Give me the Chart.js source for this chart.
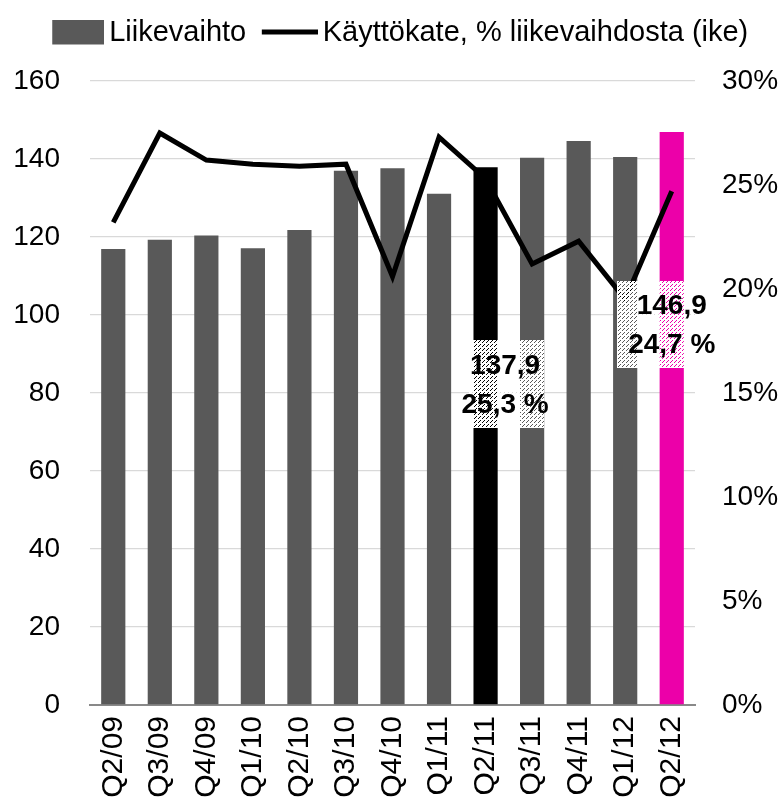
<!DOCTYPE html>
<html>
<head>
<meta charset="utf-8">
<script src="https://cdn.jsdelivr.net/npm/chart.js@4.4.1/dist/chart.umd.min.js"></script>
<style>
    html, body { margin: 0; padding: 0; background: #fff; overflow: hidden; }
    #wrap { width: 784px; height: 809px; }
    #myChart { display: block; }
</style>
</head>
<body>
<div id="wrap"><canvas id="myChart" width="784" height="809"></canvas></div>
<script>
// Chart data
const quarters = ['Q2/09', 'Q3/09', 'Q4/09', 'Q1/10', 'Q2/10', 'Q3/10', 'Q4/10',
    'Q1/11', 'Q2/11', 'Q3/11', 'Q4/11', 'Q1/12', 'Q2/12'];
const revenue = [116.9, 119.3, 120.4, 117.1, 121.8, 137.0, 137.6, 131.1, 137.9, 140.3, 144.6, 140.5, 146.9];
const ebitdaPct = [23.2, 27.5, 26.2, 26.0, 25.9, 26.0, 20.6, 27.3, 25.3, 21.2, 22.3, 19.5, 24.7];
const leftTicks = [0, 20, 40, 60, 80, 100, 120, 140, 160];
const rightTicks = [0, 5, 10, 15, 20, 25, 30];
const labelledQuarters = ['Q2/11', 'Q2/12'];

const FONT = "'Liberation Sans', Arial, sans-serif";

document.addEventListener('DOMContentLoaded', () => {
    const ctx = document.getElementById('myChart').getContext('2d');

    const barColors = quarters.map(q => {
        if (q === 'Q2/11') return '#000000';
        if (q === 'Q2/12') return '#ec00a9';
        return '#595959';
    });

    const fmt = v => v.toFixed(1).replace('.', ',');

    // white dots with holes, so the bar shows through like a stipple
    function makeStipple(c) {
        const tile = document.createElement('canvas');
        tile.width = 4;
        tile.height = 4;
        const t = tile.getContext('2d');
        t.fillStyle = '#ffffff';
        t.fillRect(0, 0, 4, 4);
        t.clearRect(0, 0, 1, 1);
        t.clearRect(2, 2, 1, 1);
        t.clearRect(3, 1, 1, 1);
        return c.createPattern(tile, 'repeat');
    }

    // legend markers sit close to their text, so draw them into small canvases
    // wider than the box and pushed to its right side
    function legendMarker(kind) {
        const m = document.createElement('canvas');
        m.width = 71;
        m.height = 26;
        const g = m.getContext('2d');
        if (kind === 'bar') {
            g.fillStyle = '#595959';
            g.fillRect(19, 0, 52, 25);
        } else {
            g.fillStyle = '#000000';
            g.fillRect(15, 10, 56, 5);
        }
        return m;
    }

    // Legend height tweak so the plot starts below it like the original
    const legendSpacer = {
        id: 'legendSpacer',
        beforeLayout(chart) {
            const legend = chart.legend;
            if (legend && !legend._patched) {
                const fit = legend.fit;
                legend.fit = function () {
                    fit.call(this);
                    this.height = 73;
                };
                legend._patched = true;
            }
        }
    };

    // Value boxes for the highlighted quarters
    const valueBoxes = {
        id: 'valueBoxes',
        afterDatasetsDraw(chart) {
            const c = chart.ctx;
            const x = chart.scales.x;
            const y = chart.scales.y;
            const step = x.getPixelForValue(1) - x.getPixelForValue(0);
            const pattern = makeStipple(c);
            const boxes = [
                { i: quarters.indexOf(labelledQuarters[0]), dx: 0.45, at: 82.3, w: 75, h: 88, tdx: 0.42 },
                { i: quarters.indexOf(labelledQuarters[1]), dx: -0.05, at: 97.5, w: 104, h: 87, tdx: 0 }
            ];
            c.save();
            boxes.forEach(b => {
                const cx = x.getPixelForValue(b.i) + b.dx * step;
                const cy = y.getPixelForValue(b.at);
                c.fillStyle = pattern;
                c.fillRect(Math.round(cx - b.w / 2), Math.round(cy - b.h / 2), b.w, b.h);
                const tx = x.getPixelForValue(b.i) + b.tdx * step;
                c.fillStyle = '#000';
                c.font = `bold 28px ${FONT}`;
                c.textAlign = 'center';
                c.textBaseline = 'middle';
                c.fillText(fmt(revenue[b.i]), tx, cy - 18);
                c.fillText(fmt(ebitdaPct[b.i]) + ' %', tx, cy + 21);
            });
            c.restore();
        }
    };

    const markers = [legendMarker('bar'), legendMarker('line')];

    new Chart(ctx, {
        data: {
            labels: quarters,
            datasets: [{
                type: 'bar',
                label: 'Liikevaihto',
                data: revenue,
                yAxisID: 'y',
                backgroundColor: barColors,
                borderWidth: 0,
                barPercentage: 0.52,
                categoryPercentage: 1,
                order: 1
            }, {
                type: 'line',
                label: 'Käyttökate, % liikevaihdosta (ike)',
                data: ebitdaPct,
                yAxisID: 'y1',
                borderColor: '#000000',
                backgroundColor: '#000000',
                borderWidth: 5,
                pointRadius: 0,
                pointHoverRadius: 0,
                tension: 0,
                order: 0
            }]
        },
        options: {
            responsive: false,
            animation: false,
            devicePixelRatio: 1,
            layout: {
                padding: { top: 8, left: 13, right: 6, bottom: 0 }
            },
            plugins: {
                tooltip: { enabled: false },
                legend: {
                    position: 'top',
                    labels: {
                        usePointStyle: true,
                        pointStyleWidth: 52,
                        boxHeight: 25,
                        padding: 10,
                        color: '#000',
                        font: { family: FONT, size: 29 },
                        generateLabels: chart => Chart.defaults.plugins.legend.labels.generateLabels(chart)
                            .map(item => Object.assign(item, { pointStyle: markers[item.datasetIndex] })),
                        sort: (a, b) => a.datasetIndex - b.datasetIndex
                    }
                }
            },
            scales: {
                x: {
                    grid: { display: false, drawTicks: false },
                    border: { display: true, color: '#898989', width: 2 },
                    ticks: {
                        color: '#000',
                        font: { family: FONT, size: 30 },
                        minRotation: 90,
                        maxRotation: 90,
                        autoSkip: false,
                        padding: 11
                    },
                    afterFit: s => { s.height = 104; }
                },
                y: {
                    position: 'left',
                    min: 0,
                    max: 160,
                    afterBuildTicks: s => { s.ticks = leftTicks.map(v => ({ value: v })); },
                    grid: { color: '#d9d9d9', lineWidth: 1.3, drawTicks: false },
                    border: { display: false },
                    ticks: {
                        color: '#000',
                        font: { family: FONT, size: 28 },
                        padding: 30
                    },
                    afterFit: s => { s.width = 77; }
                },
                y1: {
                    position: 'right',
                    min: 0,
                    max: 30,
                    afterBuildTicks: s => { s.ticks = rightTicks.map(v => ({ value: v })); },
                    grid: { display: false, drawTicks: false },
                    border: { display: false },
                    ticks: {
                        color: '#000',
                        font: { family: FONT, size: 28 },
                        padding: 27,
                        callback: v => v + '%'
                    },
                    afterFit: s => { s.width = 83; }
                }
            }
        },
        plugins: [legendSpacer, valueBoxes]
    });
});
</script>
</body>
</html>
